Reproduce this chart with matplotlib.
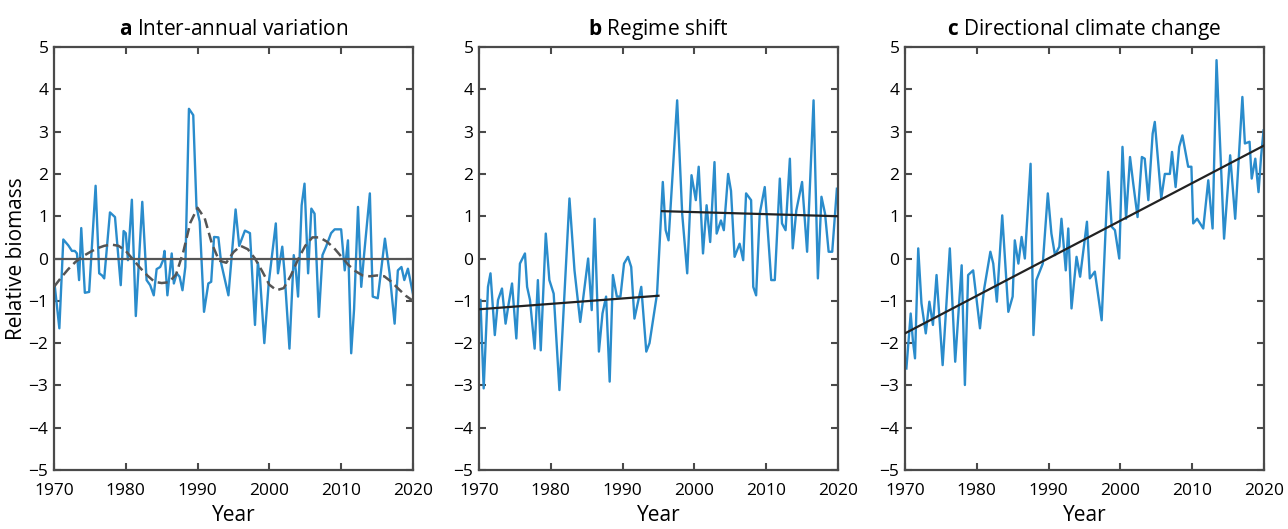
import matplotlib
matplotlib.use("Agg")
from matplotlib import pyplot as plt
import numpy as np

plt.rcParams['font.family'] = ['Open Sans', 'DejaVu Sans']
plt.rcParams['mathtext.fontset'] = 'custom'
plt.rcParams['mathtext.rm'] = 'Open Sans'
plt.rcParams['mathtext.bf'] = 'Open Sans:bold'

# ---------------- data ----------------
# a: inter-annual variation
years_a = [1970.1, 1970.75, 1971.3, 1972.0, 1972.5, 1972.9, 1973.2, 1973.5, 1973.8, 1974.3,
           1974.9, 1975.8, 1976.3, 1976.7, 1977.0, 1977.8, 1978.5, 1979.3, 1979.7, 1980.0,
           1980.3, 1980.85, 1981.4, 1982.3, 1982.9, 1983.4, 1983.9, 1984.3, 1984.8, 1985.2,
           1985.4, 1985.8, 1986.4, 1986.7, 1987.1, 1987.5, 1987.9, 1988.3, 1988.8, 1989.4,
           1989.85, 1990.3, 1990.9, 1991.5, 1991.9, 1992.3, 1992.9, 1993.3, 1994.3, 1995.3,
           1995.8, 1996.6, 1997.3, 1998.0, 1998.4, 1998.7, 1999.3, 1999.9, 2000.9, 2001.2,
           2001.8, 2002.1, 2002.8, 2003.4, 2003.7, 2004.0, 2004.5, 2004.9, 2005.4, 2005.85,
           2006.3, 2006.9, 2007.4, 2007.9, 2008.6, 2009.1, 2010.0, 2010.5, 2010.95, 2011.4,
           2011.8, 2012.35, 2012.8, 2013.2, 2014.0, 2014.4, 2015.1, 2016.1, 2016.75, 2017.45,
           2017.9, 2018.4, 2018.8, 2019.3, 2020.0]
vals_a = [-0.63, -1.65, 0.45, 0.31, 0.18, 0.18, 0.12, -0.51, 0.72, -0.81,
          -0.79, 1.72, -0.35, -0.40, -0.47, 1.09, 0.98, -0.63, 0.65, 0.60,
          -0.04, 1.39, -1.36, 1.34, -0.51, -0.63, -0.87, -0.25, -0.20, -0.04,
          0.18, -0.87, 0.12, -0.59, -0.35, -0.43, -0.75, -0.20, 3.54, 3.39,
          1.22, 0.87, -1.26, -0.59, -0.55, 0.51, 0.50, -0.12, -0.87, 1.16,
          0.30, 0.66, 0.60, -1.57, -0.10, -0.45, -2.00, -0.60, 0.83, -0.35,
          0.28, -0.30, -2.13, 0.08, -0.30, -0.90, 1.26, 1.77, -0.35, 1.18,
          1.06, -1.38, 0.08, 0.28, 0.60, 0.69, 0.69, -0.28, 0.43, -2.24,
          -1.20, 1.22, -0.67, 0.10, 1.54, -0.90, -0.94, 0.47, -0.35, -1.54,
          -0.28, -0.20, -0.51, -0.24, -0.83]
smooth_years = list(range(1970, 2021))
smooth_a = [-0.67, -0.45, -0.25, -0.08, 0.05, 0.15, 0.24, 0.30, 0.33, 0.30,
            0.18, -0.02, -0.22, -0.40, -0.55, -0.58, -0.56, -0.38, 0.15, 0.85,
            1.20, 0.95, 0.35, -0.05, -0.10, 0.15, 0.30, 0.22, 0.00, -0.30,
            -0.62, -0.75, -0.70, -0.40, -0.02, 0.30, 0.50, 0.50, 0.40, 0.25,
            0.05, -0.15, -0.30, -0.40, -0.42, -0.40, -0.42, -0.55, -0.72, -0.88,
            -1.00]

# b: regime shift
years_b = [1970.2, 1970.65, 1971.25, 1971.6, 1972.2, 1972.65, 1973.2, 1973.7, 1974.1, 1974.6,
           1975.2, 1975.7, 1976.4, 1976.7, 1977.1, 1977.75, 1978.2, 1978.6, 1979.3, 1979.8,
           1980.4, 1981.2, 1982.6, 1983.3, 1984.1, 1985.2, 1985.7, 1986.1, 1986.7, 1987.2,
           1987.7, 1988.2, 1988.65, 1989.2, 1989.7, 1990.2, 1990.75, 1991.2, 1991.65, 1992.6,
           1993.3, 1993.75, 1994.8, 1995.6, 1996.0, 1996.4, 1997.6, 1998.3, 1999.0, 1999.6,
           2000.2, 2000.6, 2001.2, 2001.7, 2002.2, 2002.8, 2003.1, 2003.7, 2004.1, 2004.7,
           2005.1, 2005.6, 2006.3, 2006.8, 2007.2, 2007.9, 2008.2, 2008.6, 2009.1, 2009.8,
           2010.7, 2011.2, 2011.9, 2012.2, 2012.7, 2013.3, 2013.7, 2014.2, 2015.0, 2015.7,
           2016.6, 2017.2, 2017.7, 2018.2, 2018.7, 2019.2, 2019.85]
vals_b = [-0.98, -3.07, -0.67, -0.35, -1.81, -0.98, -0.71, -1.54, -1.10, -0.59,
          -1.89, -0.12, 0.12, -0.67, -0.98, -2.13, -0.51, -2.17, 0.59, -0.51,
          -0.83, -3.11, 1.42, -0.28, -1.50, 0.00, -1.22, 0.94, -2.20, -1.30,
          -0.90, -2.91, -0.39, -0.90, -0.90, -0.12, 0.04, -0.20, -1.42, -0.67,
          -2.20, -2.00, -0.83, 1.81, 0.67, 0.43, 3.74, 1.06, -0.35, 1.97,
          1.38, 2.17, 0.12, 1.26, 0.39, 2.28, 0.59, 0.90, 0.67, 2.00,
          1.60, 0.04, 0.35, -0.04, 1.54, 1.38, -0.67, -0.87, 1.06, 1.69,
          -0.51, -0.51, 1.89, 0.83, 0.67, 2.36, 0.24, 1.14, 1.81, 0.16,
          3.74, -0.47, 1.46, 1.06, 0.16, 0.16, 1.65]
fit_b1_years = [1970, 1995]
fit_b1_vals = [-1.20, -0.88]
fit_b2_years = [1995.5, 2020]
fit_b2_vals = [1.12, 1.00]

# c: directional climate change
years_c = [1970.2, 1970.8, 1971.1, 1971.4, 1971.85, 1972.3, 1972.9, 1973.4, 1973.9, 1974.4,
           1975.25, 1976.25, 1977.0, 1977.9, 1978.35, 1978.8, 1979.5, 1980.45, 1981.0, 1981.9,
           1982.3, 1982.8, 1983.55, 1984.4, 1985.0, 1985.3, 1985.8, 1986.25, 1986.7, 1987.5,
           1987.9, 1988.3, 1989.2, 1989.9, 1990.4, 1990.9, 1991.5, 1991.8, 1992.4, 1992.75,
           1993.2, 1993.9, 1994.4, 1995.35, 1995.75, 1996.45, 1997.4, 1998.3, 1998.8, 1999.25,
           1999.85, 2000.3, 2000.8, 2001.35, 2001.8, 2002.4, 2003.0, 2003.4, 2003.9, 2004.5,
           2004.8, 2005.7, 2006.2, 2006.9, 2007.2, 2007.7, 2008.2, 2008.65, 2009.45, 2009.9,
           2010.15, 2010.7, 2011.55, 2012.25, 2012.85, 2013.4, 2014.45, 2015.3, 2016.0, 2017.0,
           2017.35, 2018.0, 2018.3, 2018.8, 2019.25, 2019.6, 2019.95]
vals_c = [-2.60, -1.30, -1.93, -2.36, 0.24, -1.06, -1.77, -1.02, -1.57, -0.39,
          -2.52, 0.24, -2.44, -0.16, -2.99, -0.39, -0.28, -1.65, -0.75, 0.16,
          -0.12, -1.02, 1.02, -1.26, -0.90, 0.43, -0.12, 0.51, 0.00, 2.24,
          -1.81, -0.51, -0.12, 1.54, 0.59, 0.08, 0.28, 0.94, -0.28, 0.71,
          -1.18, 0.04, -0.43, 0.87, -0.47, -0.31, -1.46, 2.05, 0.75, 0.67,
          0.00, 2.64, 0.94, 2.40, 1.77, 0.98, 2.40, 2.36, 1.38, 2.95,
          3.23, 1.42, 2.00, 2.00, 2.52, 1.69, 2.64, 2.91, 2.17, 2.17,
          0.83, 0.94, 0.71, 1.85, 0.71, 4.69, 0.47, 2.44, 0.94, 3.82,
          2.72, 2.76, 1.89, 2.36, 1.57, 2.40, 3.03]
fit_c_years = [1970, 2020]
fit_c_vals = [-1.77, 2.67]

titles = ["Inter-annual variation", "Regime shift", "Directional climate change"]
letters = ["a", "b", "c"]

# ---------------- figure ----------------
blue = "#2a8ccc"
frame = "#4a4a4a"
fig = plt.figure(figsize=(12.88, 5.29), dpi=100)
lefts = [0.0419, 0.3719, 0.7026]
axes = [fig.add_axes([l, 0.1115, 0.2787, 0.7996]) for l in lefts]

ax = axes[0]
ax.axhline(0, color="#555555", lw=1.6, zorder=3)
ax.plot(years_a, vals_a, color=blue, lw=1.7, zorder=2)
ax.plot(smooth_years, smooth_a, color="#555555", lw=1.8, dashes=(4, 2), zorder=4)

ax = axes[1]
ax.plot(years_b, vals_b, color=blue, lw=1.7, zorder=2)
ax.plot(fit_b1_years, fit_b1_vals, color="#222222", lw=1.6, zorder=3)
ax.plot(fit_b2_years, fit_b2_vals, color="#222222", lw=1.6, zorder=3)

ax = axes[2]
ax.plot(years_c, vals_c, color=blue, lw=1.7, zorder=2)
ax.plot(fit_c_years, fit_c_vals, color="#222222", lw=1.6, zorder=3)

for ax, let, tit in zip(axes, letters, titles):
    ax.set_xlim(1970, 2020)
    ax.set_ylim(-5, 5)
    ax.set_xticks(range(1970, 2021, 10))
    ax.set_yticks(range(-5, 6))
    ax.set_yticklabels([str(v).replace("-", "\u2212") for v in range(-5, 6)])
    ax.tick_params(direction="in", top=True, right=True, length=5, width=1.5,
                   color=frame, labelsize=12.5)
    ax.tick_params(axis="x", pad=9)
    ax.tick_params(axis="y", pad=4)
    for s in ax.spines.values():
        s.set_color(frame)
        s.set_linewidth(1.6)
    ax.set_title(r"$\bf{" + let + "}$ " + tit, fontsize=15, pad=9)
    ax.set_xlabel("Year", fontsize=15, labelpad=5)

axes[0].set_ylabel("Relative biomass", fontsize=15, labelpad=1)

fig.savefig("out.png", dpi=100)
